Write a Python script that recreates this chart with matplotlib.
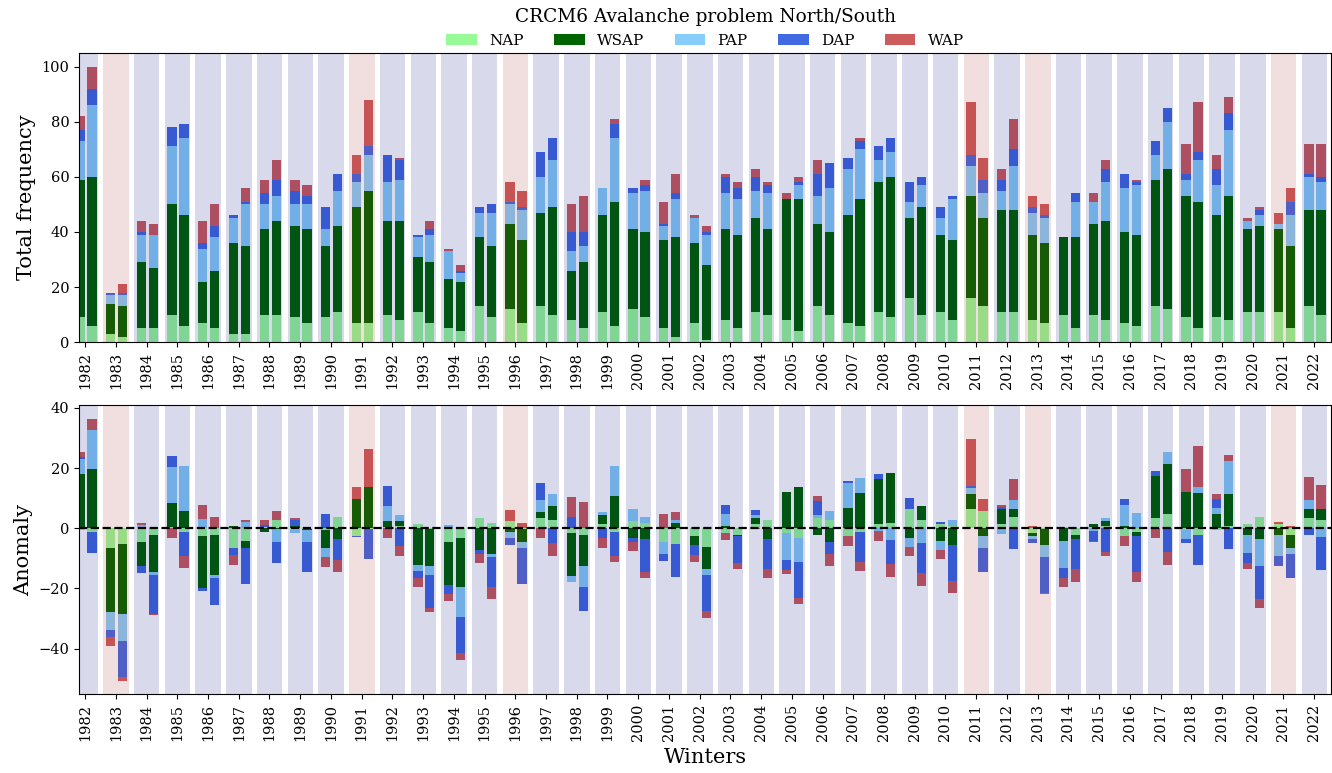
import numpy as np
import matplotlib
matplotlib.use("agg")
from matplotlib import pyplot as plt

plt.rcParams["font.family"] = "DejaVu Serif"

winters = np.arange(1982, 2023)
dry_winters = [1983, 1991, 1996, 2011, 2013, 2021]
problems = ["NAP", "WSAP", "PAP", "DAP", "WAP"]
colors = ["palegreen", "darkgreen", "lightskyblue", "royalblue", "indianred"]

# North
nap_north = [9, 3, 5, 10, 7, 3, 10, 9, 9, 7, 10, 11, 5, 13, 12, 13, 8, 11, 12, 5,
             7, 8, 11, 8, 13, 7, 11, 16, 11, 16, 11, 8, 10, 10, 7, 13, 9, 9, 11, 11, 13]
wsap_north = [50, 11, 24, 40, 15, 33, 31, 33, 26, 42, 34, 20, 18, 25, 31, 34, 18, 35, 29, 32,
              29, 33, 34, 44, 30, 39, 47, 29, 28, 37, 37, 31, 28, 33, 33, 46, 44, 37, 30, 30, 35]
pap_north = [14, 3, 10, 21, 12, 9, 9, 8, 6, 9, 14, 7, 10, 9, 7, 13, 7, 10, 13, 5,
             9, 13, 10, 0, 10, 17, 8, 6, 6, 11, 7, 8, 0, 8, 16, 9, 6, 11, 3, 2, 12]
dap_north = [4, 1, 1, 7, 2, 1, 4, 5, 8, 3, 10, 1, 0, 2, 1, 9, 7, 0, 2, 1,
             0, 6, 5, 0, 8, 4, 5, 7, 4, 4, 4, 2, 0, 0, 5, 5, 2, 6, 0, 0, 1]
wap_north = [5, 0, 4, 0, 8, 0, 5, 4, 0, 7, 0, 0, 1, 0, 7, 0, 10, 0, 0, 8,
             1, 1, 3, 2, 5, 0, 0, 0, 0, 19, 4, 4, 0, 3, 0, 0, 11, 5, 1, 4, 11]

# South
nap_south = [6, 2, 5, 6, 5, 3, 10, 7, 11, 7, 8, 7, 4, 9, 7, 10, 5, 6, 9, 2,
             1, 5, 10, 4, 10, 6, 9, 10, 8, 13, 11, 7, 5, 8, 6, 12, 5, 8, 11, 5, 10]
wsap_south = [54, 11, 22, 40, 21, 32, 34, 34, 31, 48, 36, 22, 18, 26, 30, 39, 24, 45, 31, 36,
              27, 34, 31, 48, 30, 46, 51, 39, 29, 32, 37, 29, 33, 36, 33, 51, 46, 45, 31, 30, 38]
pap_south = [26, 4, 12, 28, 12, 15, 9, 9, 13, 13, 15, 10, 3, 12, 11, 17, 6, 23, 15, 14,
             11, 13, 13, 5, 16, 18, 9, 8, 15, 9, 16, 9, 13, 14, 18, 17, 15, 24, 4, 11, 10]
dap_south = [6, 1, 0, 5, 4, 1, 6, 3, 6, 3, 7, 2, 1, 3, 1, 8, 5, 5, 2, 2,
             1, 4, 3, 1, 9, 3, 5, 3, 1, 5, 6, 1, 3, 5, 1, 5, 3, 6, 2, 5, 2]
wap_south = [8, 3, 4, 0, 8, 5, 7, 4, 0, 17, 1, 3, 2, 0, 6, 0, 13, 2, 2, 7,
             2, 2, 1, 2, 0, 1, 0, 0, 0, 8, 11, 4, 0, 3, 1, 0, 18, 6, 1, 5, 12]

# reference climatology per problem type
clim_north = [9.6, 32.1, 9.0, 3.3, 3.2]
clim_south = [7.2, 34.4, 13.0, 13.0, 4.1]

north = np.array([nap_north, wsap_north, pap_north, dap_north, wap_north], dtype=float)
south = np.array([nap_south, wsap_south, pap_south, dap_south, wap_south], dtype=float)
anom_north = north - np.array(clim_north)[:, None]
anom_south = south - np.array(clim_south)[:, None]

bar_w = 0.3
offsets = {"north": -0.17, "south": 0.22}


def stacked(ax, x, parts):
    """Stack parts upward from zero; returns one container per problem."""
    bottom = np.zeros(len(x))
    conts = []
    for vals, col in zip(parts, colors):
        conts.append(ax.bar(x, vals, bar_w, bottom=bottom, color=col, lw=0, zorder=1))
        bottom += vals
    return conts


def stacked_anomaly(ax, x, parts):
    """Positive and negative anomalies stacked separately around zero."""
    pos = np.zeros(len(x))
    neg = np.zeros(len(x))
    for vals, col in zip(parts, colors):
        up = np.clip(vals, 0, None)
        down = np.clip(vals, None, 0)
        ax.bar(x, up, bar_w, bottom=pos, color=col, lw=0, zorder=1)
        ax.bar(x, down, bar_w, bottom=neg, color=col, lw=0, zorder=1)
        pos += up
        neg += down


def shade_winters(ax):
    for yr in winters:
        col = "brown" if yr in dry_winters else "navy"
        ax.axvspan(yr - 0.41, yr + 0.42, color=col, alpha=0.15, lw=0, zorder=2)


fig = plt.figure(figsize=(13.32, 7.73), dpi=100)
ax_tot = fig.add_axes([0.0593, 0.5572, 0.9400, 0.3746])
ax_ano = fig.add_axes([0.0593, 0.1018, 0.9400, 0.3743])

handles = stacked(ax_tot, winters + offsets["north"], north)
stacked(ax_tot, winters + offsets["south"], south)
stacked_anomaly(ax_ano, winters + offsets["north"], anom_north)
stacked_anomaly(ax_ano, winters + offsets["south"], anom_south)

for ax in (ax_tot, ax_ano):
    shade_winters(ax)
    ax.set_xlim(1981.8, 2022.55)
    ax.set_xticks(winters)
    ax.set_xticklabels(winters, rotation=90, fontsize=10.5)
    ax.tick_params(axis="y", labelsize=10.5)

ax_tot.set_ylim(0, 105)
ax_tot.set_ylabel("Total frequency", fontsize=15)

ax_ano.axhline(0, color="k", ls="--", lw=1.6, zorder=3)
ax_ano.set_ylim(-55.2, 41)
ax_ano.set_yticks([-40, -20, 0, 20, 40])
ax_ano.set_ylabel("Anomaly", fontsize=15)
ax_ano.set_xlabel("Winters", fontsize=15, labelpad=5)

ax_tot.legend([h[0] for h in handles], problems, loc="lower center",
              bbox_to_anchor=(0.5, 0.995), ncol=5, frameon=False,
              title="CRCM6 Avalanche problem North/South", fontsize=11,
              title_fontsize=13.3, columnspacing=2.0, borderaxespad=0,
              handletextpad=0.8)

fig.savefig("out.png", dpi=100)
plt.close(fig)
